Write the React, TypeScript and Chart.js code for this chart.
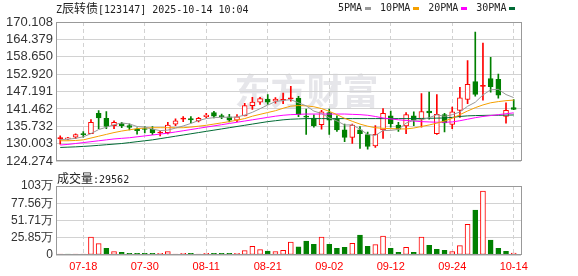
import React, { useEffect, useRef } from 'react';
import { Chart, registerables } from 'chart.js';

Chart.register(...registerables);

// ---------- data ----------
const dates = ['07-15','07-16','07-17','07-18','07-21','07-22','07-23','07-24','07-25','07-28','07-29','07-30','07-31','08-01','08-04','08-05','08-06','08-07','08-08','08-11','08-12','08-13','08-14','08-15','08-18','08-19','08-20','08-21','08-22','08-25','08-26','08-27','08-28','08-29','09-01','09-02','09-03','09-04','09-05','09-08','09-09','09-10','09-11','09-12','09-15','09-16','09-17','09-18','09-19','09-22','09-23','09-24','09-25','09-26','09-29','09-30','10-09','10-10','10-13','10-14'];

const opens = [131.7,131.6,132.2,133.1,133.35,140.0,138.4,136.0,136.7,136.0,134.75,134.8,134.75,133.55,133.7,136.5,138.15,138.3,137.5,138.9,140.3,139.05,138.9,137.8,139.2,142.55,143.7,144.7,144.0,144.35,144.8,145.0,139.1,138.5,136.3,140.3,138.2,134.6,132.1,134.6,133.0,129.3,134.6,139.2,136.2,135.9,139.2,138.15,140.8,133.35,139.6,136.4,141.0,144.6,150.5,148.9,151.5,151.2,139.0,141.9];
const highs = [132.6,132.1,133.3,134.0,137.96,140.94,140.6,137.6,137.1,136.55,135.27,135.7,135.7,134.2,137.1,138.2,139.0,139.0,138.7,140.0,140.7,139.8,139.7,139.6,143.3,145.3,145.3,146.2,145.2,146.7,148.9,145.6,141.4,139.55,141.0,141.4,139.2,136.5,136.5,135.7,133.9,136.0,141.6,140.8,137.1,140.3,140.5,146.5,147.0,146.2,140.0,142.1,148.6,157.4,166.8,163.2,158.5,153.0,143.5,144.6];
const lows = [129.9,131.3,131.7,132.2,133.35,134.95,134.95,134.95,135.3,134.6,133.2,133.6,133.0,132.6,133.25,136.0,137.3,136.9,137.2,138.5,138.5,138.3,137.2,137.3,139.2,141.3,143.0,143.0,143.4,143.2,144.0,138.9,133.1,135.5,134.85,133.1,134.1,130.7,130.1,128.5,128.2,128.8,131.8,135.5,134.1,133.35,136.0,135.5,138.15,133.1,133.9,134.95,138.7,143.2,145.7,144.4,147.0,145.0,136.8,141.2];
const closes = [131.75,131.9,133.0,133.0,137.1,138.5,135.7,137.1,136.0,135.4,134.3,134.7,133.7,133.65,136.2,137.6,138.25,137.85,138.4,139.45,139.1,138.95,137.8,138.9,142.55,143.7,144.9,143.7,144.7,144.45,145.0,139.6,138.8,136.0,140.5,137.8,134.6,132.1,136.2,133.35,129.1,133.1,140.0,136.6,134.8,139.6,137.8,140.6,140.2,139.7,136.9,140.5,145.1,149.6,146.3,149.0,148.8,146.0,141.0,141.3];

const ma5 = [131.4,131.5,131.8,132.3,133.35,134.7,135.46,136.28,136.88,136.54,135.7,135.5,134.82,134.35,134.51,135.17,135.88,136.71,137.66,138.31,138.61,138.75,138.74,138.84,139.46,140.38,141.57,142.75,143.91,144.29,144.55,143.49,142.51,140.77,139.98,138.54,137.54,136.2,136.24,134.81,133.07,132.77,134.35,134.43,134.72,136.82,137.76,137.88,138.6,139.58,139.04,139.58,140.48,142.36,143.68,146.1,147.76,147.94,146.22,145.22];
const ma10 = [131.0,131.0,131.1,131.3,131.9,132.5,133.1,133.7,134.2,134.6,135.0,135.2,135.3,135.3,135.3,135.3,135.3,135.5,135.8,136.1,136.5,136.9,137.3,137.8,138.3,139.1,139.7,140.3,140.9,141.7,142.4,142.6,142.5,142.2,141.6,140.7,139.6,138.4,137.4,136.5,135.8,135.3,135.1,135.0,134.9,134.9,135.2,135.7,136.2,136.8,137.5,138.4,139.6,140.8,141.9,142.8,143.5,143.9,144.2,144.4];
const ma20 = [129.6,129.8,130.1,130.4,130.7,131.0,131.3,131.6,131.8,132.0,132.3,132.6,132.9,133.2,133.5,133.9,134.3,134.7,135.1,135.5,135.9,136.3,136.7,137.1,137.5,137.9,138.3,138.7,139.1,139.4,139.6,139.7,139.8,139.8,139.8,139.8,139.8,139.8,139.7,139.6,139.4,139.0,138.5,138.2,137.9,137.7,137.5,137.3,137.2,137.1,137.1,137.2,137.6,138.1,138.6,139.0,139.3,139.6,139.9,140.2];
const ma30 = [128.8,128.9,129.0,129.15,129.3,129.5,129.7,129.9,130.1,130.4,130.7,131.0,131.3,131.7,132.1,132.5,132.9,133.3,133.7,134.1,134.5,134.9,135.3,135.7,136.1,136.5,136.9,137.3,137.6,137.9,138.1,138.2,138.3,138.3,138.3,138.3,138.3,138.3,138.3,138.3,138.3,138.3,138.3,138.3,138.3,138.3,138.3,138.35,138.4,138.45,138.5,138.7,139.0,139.2,139.3,139.35,139.4,139.4,139.45,139.5];

// volume in 万
const volumes = [1.5,1.5,1.5,1.5,26.7,17.1,10.1,5.0,4.0,2.5,2.5,2.5,2.5,2.5,5.0,1.5,2.5,2.5,1.5,2.5,2.5,2.5,2.5,2.5,6.6,13.1,8.1,6.0,5.0,7.0,19.2,12.1,20.7,16.1,26.7,16.1,10.1,11.6,17.6,29.7,13.1,15.6,28.2,10.1,4.0,11.6,4.0,26.7,14.6,8.6,7.1,5.0,14.1,45.9,67.5,95.8,22.2,10.1,5.5,2.96];
const volumeUp = [1,0,1,1,1,1,0,1,0,0,0,0,0,1,1,1,1,0,1,1,0,0,0,1,1,1,1,0,1,1,1,0,0,0,1,0,0,0,1,0,0,1,1,0,0,1,0,1,0,0,0,1,1,1,0,1,0,0,0,1];

const priceTicks = [124.274, 130.003, 135.732, 141.462, 147.191, 152.920, 158.650, 164.379, 170.108];
const volumeTicks = [0, 25.85, 51.71, 77.56, 103.42];
const volumeTickLabels = ['0', '25.85万', '51.71万', '77.56万', '103万'];
const dateTickIndex = [3, 11, 19, 27, 35, 43, 51, 59];

const titleName = '辰转债';
const titleCode = '[123147] 2025-10-14 10:04';
const volumeLabel = '成交量';
const lastVolume = '29562';
const watermarkText = '东方财富';

const maNames = ['5PMA', '10PMA', '20PMA', '30PMA'];

// ---------- styles ----------
const RED = '#ff0000';
const GREEN = '#008000';
const MA_COLORS = ['#999999', '#f5a000', '#ff00ff', '#006a35'];
const GRID = '#d2d2d2';
const FRAME = '#999999';
const MONO = '"DejaVu Sans Mono", "Liberation Mono", monospace';
const CJK = '"Noto Sans CJK SC", sans-serif';
const X_MIN = -0.55;
const X_MAX = 59.95;

const frame = {
  id: 'frame',
  afterDraw(chart: any) {
    const { ctx, chartArea } = chart;
    const l = Math.round(chartArea.left) + 0.5;
    const t = Math.round(chartArea.top) + 0.5;
    const r = Math.round(chartArea.right) + 0.5;
    const b = Math.round(chartArea.bottom) - 0.5;
    ctx.save();
    ctx.strokeStyle = FRAME;
    ctx.lineWidth = 1;
    ctx.strokeRect(l, t, r - l, b - t);
    ctx.restore();
  },
};

const watermark = {
  id: 'watermark',
  beforeDraw(chart: any) {
    const { ctx, chartArea } = chart;
    ctx.save();
    ctx.font = 'bold 36px "Noto Sans CJK SC"';
    ctx.fillStyle = '#e6e6ea';
    ctx.textAlign = 'center';
    ctx.textBaseline = 'middle';
    ctx.fillText(watermarkText, (chartArea.left + chartArea.right) / 2 + 18, (chartArea.top + chartArea.bottom) / 2);
    ctx.restore();
  },
};

export default function App() {
  const priceRef = useRef<HTMLCanvasElement>(null);
  const volRef = useRef<HTMLCanvasElement>(null);

  useEffect(() => {
    const candleUp = opens.map((o, i) => closes[i] >= o);
    const candleColor = candleUp.map((u) => (u ? RED : GREEN));
    const bodyFill = opens.map((o, i) =>
      candleUp[i] ? (Math.abs(closes[i] - o) < 0.3 ? RED : '#ffffff') : GREEN
    );
    const bodies = opens.map((o, i) => ({ x: i, y: [Math.min(o, closes[i]), Math.max(o, closes[i])] }));
    const wicks = lows.map((l, i) => ({ x: i, y: [l, highs[i]] }));
    const maSeries = [ma5, ma10, ma20, ma30];

    const priceChart = new Chart(priceRef.current as HTMLCanvasElement, {
      type: 'bar',
      data: {
        datasets: [
          ...maSeries.map((s, k) => ({
            type: 'line' as const,
            label: maNames[k],
            order: 0,
            data: s.map((v, i) => ({ x: i, y: v })),
            borderColor: MA_COLORS[k],
            borderWidth: 1,
            pointRadius: 0,
            tension: 0,
            fill: false,
          })),
          {
            type: 'bar' as const,
            label: 'body',
            order: 1,
            data: bodies as any,
            backgroundColor: bodyFill,
            borderColor: candleColor,
            borderWidth: 1,
            borderSkipped: false,
            barThickness: 5,
            minBarLength: 1,
            grouped: false,
          },
          {
            type: 'bar' as const,
            label: 'wick',
            order: 2,
            data: wicks as any,
            backgroundColor: candleColor,
            borderWidth: 0,
            barThickness: 1,
            grouped: false,
          },
        ],
      },
      options: {
        responsive: false,
        animation: false,
        events: [],
        layout: { padding: { left: 0, right: 57, top: 22, bottom: 7 } },
        plugins: { legend: { display: false }, tooltip: { enabled: false } },
        scales: {
          x: {
            type: 'linear',
            min: X_MIN,
            max: X_MAX,
            offset: false,
            bounds: 'data',
            afterBuildTicks: (s: any) => {
              s.ticks = dateTickIndex.map((v) => ({ value: v }));
            },
            afterFit: (s: any) => {
              s.height = 0;
            },
            ticks: { display: false },
            grid: { offset: false, color: GRID, drawTicks: false },
            border: { display: false, dash: [4, 3] },
          },
          y: {
            type: 'linear',
            min: priceTicks[0],
            max: priceTicks[priceTicks.length - 1],
            bounds: 'data',
            afterBuildTicks: (s: any) => {
              s.ticks = priceTicks.map((v) => ({ value: v }));
            },
            afterFit: (s: any) => {
              s.width = 56;
            },
            ticks: {
              callback: (v: any) => Number(v).toFixed(3),
              padding: 3,
              color: '#333333',
              autoSkip: false,
              font: { family: '"Liberation Sans", Arial, sans-serif', size: 13 },
            },
            grid: { color: GRID, drawTicks: false },
            border: { display: false },
          },
        },
      } as any,
      plugins: [watermark, frame],
    });

    const volChart = new Chart(volRef.current as HTMLCanvasElement, {
      type: 'bar',
      data: {
        datasets: [
          {
            label: 'volume',
            data: volumes.map((v, i) => ({ x: i, y: v })) as any,
            backgroundColor: volumeUp.map((u) => (u ? '#ffffff' : GREEN)),
            borderColor: volumeUp.map((u) => (u ? RED : GREEN)),
            borderWidth: 1,
            borderSkipped: false,
            barThickness: 5,
            minBarLength: 1,
            grouped: false,
          },
        ],
      },
      options: {
        responsive: false,
        animation: false,
        events: [],
        layout: { padding: { left: 0, right: 57, top: 14, bottom: 0 } },
        plugins: { legend: { display: false }, tooltip: { enabled: false } },
        scales: {
          x: {
            type: 'linear',
            min: X_MIN,
            max: X_MAX,
            offset: false,
            bounds: 'data',
            afterBuildTicks: (s: any) => {
              s.ticks = dateTickIndex.map((v) => ({ value: v }));
            },
            afterFit: (s: any) => {
              s.height = 21;
            },
            ticks: {
              callback: (v: any) => dates[Number(v)],
              color: RED,
              padding: 5,
              autoSkip: false,
              maxRotation: 0,
              font: { family: '"Liberation Sans", Arial, sans-serif', size: 11 },
            },
            grid: { offset: false, color: GRID, drawTicks: false },
            border: { display: false, dash: [4, 3] },
          },
          y: {
            type: 'linear',
            min: volumeTicks[0],
            max: volumeTicks[volumeTicks.length - 1],
            bounds: 'data',
            afterBuildTicks: (s: any) => {
              s.ticks = volumeTicks.map((v) => ({ value: v }));
            },
            afterFit: (s: any) => {
              s.width = 56;
            },
            ticks: {
              callback: (_v: any, idx: number) => volumeTickLabels[idx],
              padding: 3,
              color: '#333333',
              autoSkip: false,
              font: { family: '"Liberation Sans", Arial, sans-serif', size: 12 },
            },
            grid: { color: GRID, drawTicks: false },
            border: { display: false },
          },
        },
      } as any,
      plugins: [frame],
    });

    return () => {
      priceChart.destroy();
      volChart.destroy();
    };
  }, []);

  const mono = { fontFamily: MONO, fontSize: 10 };
  const cjk = { fontFamily: CJK, fontSize: 12 };

  return (
    <div style={{ position: 'absolute', left: 0, top: 0, width: 578, height: 276, background: '#ffffff', overflow: 'hidden' }}>
      <canvas ref={priceRef} width={578} height={172} style={{ position: 'absolute', left: 0, top: 0, display: 'block' }} />
      <canvas ref={volRef} width={578} height={104} style={{ position: 'absolute', left: 0, top: 172, display: 'block' }} />
      <div style={{ position: 'absolute', left: 56, top: 1, lineHeight: '14px', whiteSpace: 'nowrap', color: '#222' }}>
        <span style={mono}>Z</span>
        <span style={cjk}>{titleName}</span>
        <span style={mono}>{titleCode}</span>
      </div>
      <div style={{ position: 'absolute', left: 338, top: 1, lineHeight: '14px', whiteSpace: 'nowrap', color: '#222', display: 'flex', alignItems: 'center' }}>
        {maNames.map((n, k) => (
          <React.Fragment key={n}>
            <span style={mono}>{n}</span>
            <span style={{ display: 'inline-block', width: 6, height: 3, background: MA_COLORS[k], marginLeft: 3, marginRight: 9 }} />
          </React.Fragment>
        ))}
      </div>
      <div style={{ position: 'absolute', left: 57, top: 171, lineHeight: '14px', whiteSpace: 'nowrap', color: '#222' }}>
        <span style={cjk}>{volumeLabel}</span>
        <span style={mono}>:{lastVolume}</span>
      </div>
    </div>
  );
}
